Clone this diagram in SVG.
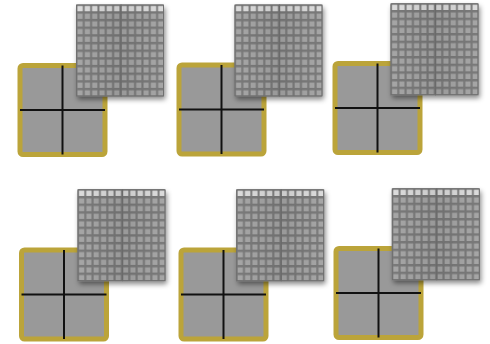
<svg xmlns="http://www.w3.org/2000/svg" width="490" height="344" viewBox="0 0 490 344">
  <style>
    .frame { fill: #999999; stroke: #bba43a; stroke-width: 5; }
    .cross { stroke: #111111; stroke-width: 2; fill: none; }
    .meshbg { fill: #7a7a7a; }
  </style>
  <defs>
    <pattern id="cells" x="0" y="0" width="7.333" height="7.667" patternUnits="userSpaceOnUse">
      <rect x="1.5" y="1.5" width="5.2" height="5.2" fill="#a6a6a6"/>
    </pattern>
    <pattern id="cellsTop" x="0" y="0" width="7.333" height="7.667" patternUnits="userSpaceOnUse">
      <rect x="1.5" y="1.5" width="5.2" height="5.2" fill="#dcdcdc"/>
    </pattern>
    <linearGradient id="shade" x1="0" y1="0" x2="1" y2="0">
      <stop offset="0" stop-color="#000" stop-opacity="0"/>
      <stop offset="0.5" stop-color="#000" stop-opacity="0.08"/>
      <stop offset="1" stop-color="#000" stop-opacity="0"/>
    </linearGradient>
    <filter id="shadow" x="-20%" y="-20%" width="140%" height="140%">
      <feDropShadow dx="1.5" dy="3" stdDeviation="2.5" flood-color="#000" flood-opacity="0.45"/>
    </filter>
    <filter id="soft" x="-5%" y="-5%" width="110%" height="110%">
      <feGaussianBlur stdDeviation="0.35"/>
    </filter>
    <g id="square">
      <rect class="frame" x="2.5" y="2.5" width="85" height="89" rx="3"/>
      <line class="cross" x1="45" y1="2.5" x2="45" y2="91.5"/>
      <line class="cross" x1="2.5" y1="47" x2="87.5" y2="47"/>
    </g>
    <g id="mesh">
      <g filter="url(#shadow)">
        <rect class="meshbg" x="0" y="0" width="88" height="92" rx="1.5"/>
      </g>
      <g filter="url(#soft)">
        <rect x="0" y="0" width="88" height="92" fill="url(#cells)"/>
        <rect x="0" y="0" width="88" height="7.667" fill="url(#cellsTop)"/>
        <rect x="0" y="0" width="88" height="92" fill="url(#shade)"/>
        <line x1="45" y1="0" x2="45" y2="92" stroke="#6a6a6a" stroke-width="1.2"/>
        <rect x="0.5" y="0.5" width="87" height="91" fill="none" stroke="#6f6f6f" stroke-width="1"/>
      </g>
    </g>
  </defs>

  <g id="panel1" transform="translate(17.5,63)">
    <use href="#square"/>
    <use href="#mesh" x="58.5" y="-58.5"/>
  </g>
  <g id="panel2" transform="translate(176.5,62.5)">
    <use href="#square"/>
    <use href="#mesh" x="58" y="-58"/>
  </g>
  <g id="panel3" transform="translate(332.5,61)">
    <use href="#square"/>
    <use href="#mesh" x="58" y="-57.7"/>
  </g>
  <g id="panel4" transform="translate(19,247.5)">
    <use href="#square"/>
    <use href="#mesh" x="58.5" y="-58.3"/>
  </g>
  <g id="panel5" transform="translate(178.5,247.5)">
    <use href="#square"/>
    <use href="#mesh" x="57.7" y="-58.2"/>
  </g>
  <g id="panel6" transform="translate(333.5,246)">
    <use href="#square"/>
    <use href="#mesh" x="58.3" y="-57.7"/>
  </g>
  <g id="connectors"/>
</svg>
